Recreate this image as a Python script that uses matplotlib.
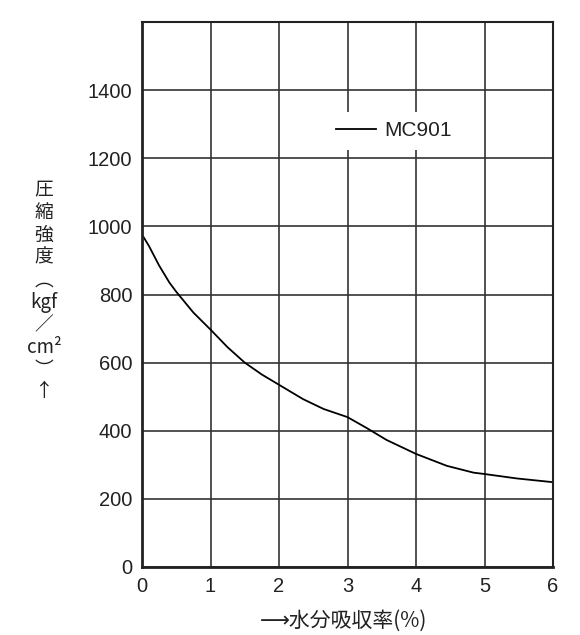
import matplotlib
matplotlib.use("Agg")
import matplotlib.pyplot as plt

# 水分吸収率 (%) と 圧縮強度 (kgf/cm²) の読み取り値
water = [0, 0.1, 0.25, 0.4, 0.5, 0.75, 1.0, 1.25, 1.5, 1.75, 2.0, 2.35,
         2.65, 3.0, 3.28, 3.57, 4.0, 4.45, 4.84, 5.0, 5.47, 6.0]
strength = [976, 943, 885, 835, 808, 747, 697, 645, 600, 565, 535, 493,
            464, 440, 408, 373, 332, 297, 277, 273, 260, 249]
series_name = "MC901"

x_ticks = [0, 1, 2, 3, 4, 5, 6]
y_ticks = [0, 200, 400, 600, 800, 1000, 1200, 1400]

W, H = 580, 635
fig = plt.figure(figsize=(W / 100, H / 100), dpi=100)
ax = fig.add_axes([142 / W, 1 - 567 / H, (553 - 142) / W, (567 - 22) / H])

ax.set_xlim(0, 6)
ax.set_ylim(0, 1600)
ax.set_xticks(x_ticks)
ax.set_yticks(y_ticks)
ax.set_xticklabels([str(v) for v in x_ticks])
ax.set_yticklabels([str(v) for v in y_ticks])

for lab in ax.get_xticklabels() + ax.get_yticklabels():
    lab.set_fontfamily('Liberation Sans')
    lab.set_fontsize(14.5)
    lab.set_color('#222222')
ax.tick_params(axis='y', length=0, pad=7)
ax.tick_params(axis='x', length=0, pad=7)

ax.grid(True, color='#333333', linewidth=1.2)
ax.set_axisbelow(True)
for side in ['left', 'bottom']:
    ax.spines[side].set_linewidth(2.0)
for side in ['top', 'right']:
    ax.spines[side].set_linewidth(1.5)
for s in ax.spines.values():
    s.set_color('#222222')

ax.plot(water, strength, color='black', linewidth=1.3, label=series_name)

leg = ax.legend(loc='center', bbox_to_anchor=(0.613, 0.80), frameon=True,
                fancybox=False, framealpha=1, edgecolor='none',
                handlelength=1.95, handletextpad=0.4, borderpad=0.45,
                prop={'family': 'Liberation Sans', 'size': 15})
leg.get_frame().set_facecolor('white')
for t in leg.get_texts():
    t.set_color('#222222')

# 縦書きの軸ラベル (一文字ずつ改行)
cjk = ['Noto Sans CJK JP', 'DejaVu Sans']
ylabel_chars = ['圧', '縮', '強', '度', '︵', 'kgf', '／', 'cm²', '︶', '↑']
fig.text(44 / W, 1 - 291 / H, '\n'.join(ylabel_chars), ha='center',
         va='center', ma='center', fontsize=13.5, linespacing=1.09,
         family=cjk, color='#222222')

fig.text(344 / W, 1 - 621 / H, '⟶水分吸収率(%)', ha='center', va='center',
         fontsize=15, family=cjk, color='#222222')

fig.savefig('out.png', dpi=100)
